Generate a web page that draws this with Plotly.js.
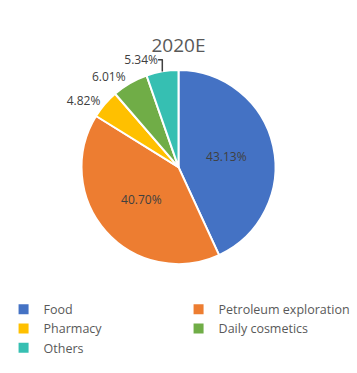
<!DOCTYPE html>
<html><head><meta charset="utf-8">
<script src="https://cdn.plot.ly/plotly-3.0.1.min.js"></script>
<style>html,body{margin:0;padding:0;background:#fff}#chart{width:357px;height:373px}</style>
</head><body><div id="chart"></div>
<script>
const categories = ["Food", "Petroleum exploration", "Pharmacy", "Daily cosmetics", "Others"];
const shares = [43.13, 40.70, 4.82, 6.01, 5.34];
const colors = ["#4472C4", "#ED7D31", "#FFC000", "#70AD47", "#36BFB2"];
const positions = ["inside", "inside", "outside", "outside", "outside"];

const trace = {
  type: "pie",
  labels: categories,
  values: shares,
  sort: false,
  direction: "clockwise",
  rotation: 0,
  marker: {colors: colors, line: {color: "#ffffff", width: 2}},
  texttemplate: "%{value:.2f}%",
  textposition: positions,
  textfont: {family: "Open Sans, Liberation Sans, sans-serif", size: 12, color: "#404040"},
  insidetextorientation: "horizontal",
  hoverinfo: "label+value",
  domain: {x: [0.10, 0.90], y: [0.292, 0.812]}
};

const layout = {
  width: 357, height: 373,
  margin: {l: 0, r: 0, t: 0, b: 0, autoexpand: false},
  paper_bgcolor: "#ffffff",
  title: {text: "2020E", x: 0.5, xanchor: "center", y: 0.879, yanchor: "middle", yref: "paper",
          font: {family: "Open Sans, Liberation Sans, sans-serif", size: 19, color: "#595959"}},
  showlegend: true,
  legend: {orientation: "h", x: 0.01, xanchor: "left", y: 0.21, yanchor: "top",
           entrywidth: 130, entrywidthmode: "pixels", traceorder: "normal",
           font: {family: "Open Sans, Liberation Sans, sans-serif", size: 12.5, color: "#595959"}}
};

Plotly.newPlot("chart", [trace], layout, {displayModeBar: false, staticPlot: true});
</script></body></html>
